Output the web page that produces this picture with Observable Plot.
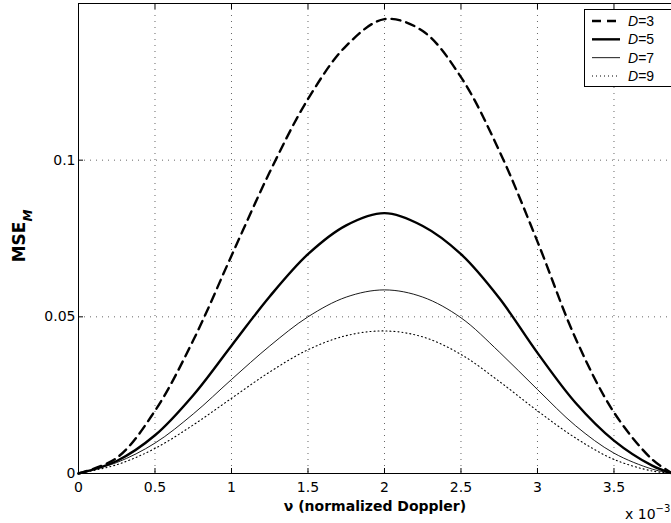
<!DOCTYPE html>
<html><head><meta charset="utf-8">
<script src="https://cdn.jsdelivr.net/npm/d3@7"></script>
<script src="https://cdn.jsdelivr.net/npm/@observablehq/plot@0.6"></script>
<style>
html,body{margin:0;padding:0;background:#fff;overflow:hidden}
#wrap{position:relative;width:671px;height:523px;overflow:hidden;background:#fff}
#overlay{position:absolute;left:0;top:0;pointer-events:none}
</style></head><body><div id="wrap"></div>
<script>
// normalized Doppler (units of 1e-3)
const nu = [0, 0.25, 0.5, 0.75, 1.0, 1.25, 1.5, 1.75, 2.0, 2.25, 2.5, 2.75, 3.0, 3.25, 3.5, 3.75, 3.876];
const seriesD = [3, 5, 7, 9];
const mseD3 = [0, 0.0050, 0.0200, 0.0425, 0.0695, 0.0962, 0.1195, 0.1365, 0.1450, 0.1412, 0.1265, 0.1030, 0.0740, 0.0430, 0.0195, 0.0045, 0.0002];
const mseD5 = [0, 0.0040, 0.0122, 0.0250, 0.0408, 0.0565, 0.0700, 0.0792, 0.0831, 0.0790, 0.0700, 0.0560, 0.0385, 0.0225, 0.0105, 0.0025, 0.0001];
const mseD7 = [0, 0.0035, 0.0097, 0.0190, 0.0300, 0.0407, 0.0500, 0.0563, 0.0586, 0.0563, 0.0497, 0.0388, 0.0268, 0.0152, 0.0065, 0.0014, 0.0001];
const mseD9 = [0, 0.0028, 0.0080, 0.0155, 0.0240, 0.0324, 0.0395, 0.0440, 0.0455, 0.0436, 0.0380, 0.0294, 0.0200, 0.0113, 0.0045, 0.0008, 0.0001];
const xTicks = [0, 0.5, 1, 1.5, 2, 2.5, 3, 3.5];
const yTicks = [0, 0.05, 0.1];
const xDomain = [0, 3.876];
const yDomain = [0, 0.15];

const seriesValues = {3: mseD3, 5: mseD5, 7: mseD7, 9: mseD9};
const lineStyle = {
  3: {strokeWidth: 2.4, strokeDasharray: "9,6"},
  5: {strokeWidth: 2.4, strokeDasharray: null},
  7: {strokeWidth: 0.9, strokeDasharray: null},
  9: {strokeWidth: 1.1, strokeDasharray: "1,3"}
};

const rows = seriesD.flatMap(D => nu.map((v, i) => ({nu: v, mse: seriesValues[D][i], D})));

const gridStyle = {stroke: "#666", strokeOpacity: 1, strokeWidth: 1, strokeDasharray: "1,5"};

const plot = Plot.plot({
  width: 671, height: 523,
  marginLeft: 78, marginRight: 0, marginTop: 3, marginBottom: 50,
  style: {fontFamily: "DejaVu Sans", fontSize: "14px", color: "#000", background: "white", overflow: "visible"},
  x: {domain: xDomain},
  y: {domain: yDomain},
  marks: [
    Plot.gridX(xTicks.filter(d => d > 0), gridStyle),
    Plot.gridY(yTicks.filter(d => d > 0), gridStyle),
    ...seriesD.map(D => Plot.line(rows.filter(r => r.D === D), {
      x: "nu", y: "mse", stroke: "#000", curve: "catmull-rom",
      strokeWidth: lineStyle[D].strokeWidth,
      strokeDasharray: lineStyle[D].strokeDasharray
    })),
    Plot.ruleY([yDomain[0], yDomain[1]], {stroke: "#000", strokeWidth: 1}),
    Plot.ruleX([xDomain[0]], {stroke: "#000", strokeWidth: 1}),
    Plot.axisX(xTicks, {anchor: "bottom", tickSize: -5, tickFormat: d => String(d), label: null}),
    Plot.axisX(xTicks, {anchor: "top", tickSize: -5, tickFormat: () => "", label: null}),
    Plot.axisY(yTicks, {anchor: "left", tickSize: -5, tickPadding: 8, tickFormat: d => String(d), label: null})
  ]
});
d3.select(plot).selectAll("text").filter(function(){ return this.textContent === ""; }).remove();

const wrap = document.getElementById("wrap");
wrap.appendChild(plot);

// overlay: axis titles, exponent, legend
const ov = d3.select(wrap).append("svg").attr("id", "overlay")
  .attr("width", 671).attr("height", 523)
  .style("font-family", "DejaVu Sans");

const yl = ov.append("text").attr("transform", "translate(25,236) rotate(-90)")
  .attr("text-anchor", "middle").attr("font-weight", "bold").attr("font-size", 17);
yl.append("tspan").text("MSE");
yl.append("tspan").attr("dy", 7).attr("font-size", 12).attr("font-style", "italic").text("M");

ov.append("text").attr("x", 375).attr("y", 511).attr("text-anchor", "middle")
  .attr("font-weight", "bold").attr("font-size", 14).text("ν (normalized Doppler)");

const ex = ov.append("text").attr("x", 625).attr("y", 519).attr("font-size", 14);
ex.append("tspan").text("x 10");
ex.append("tspan").attr("dy", -7).attr("font-size", 10).text("−3");

const lg = ov.append("g");
lg.append("rect").attr("x", 584.5).attr("y", 9.5).attr("width", 120).attr("height", 77)
  .attr("fill", "#fff").attr("stroke", "#000").attr("stroke-width", 1);
const rowY = d3.scalePoint().domain(seriesD).range([21, 76]);
seriesD.forEach(D => {
  const y = rowY(D);
  lg.append("line").attr("x1", 592).attr("x2", 620).attr("y1", y).attr("y2", y)
    .attr("stroke", "#000").attr("stroke-width", lineStyle[D].strokeWidth)
    .attr("stroke-dasharray", lineStyle[D].strokeDasharray);
  const t = lg.append("text").attr("x", 628).attr("y", y + 5).attr("font-size", 14)
    .style("font-family", "Liberation Sans, Arial, sans-serif");
  t.append("tspan").attr("font-style", "italic").text("D");
  t.append("tspan").text("=" + D);
});
</script></body></html>
